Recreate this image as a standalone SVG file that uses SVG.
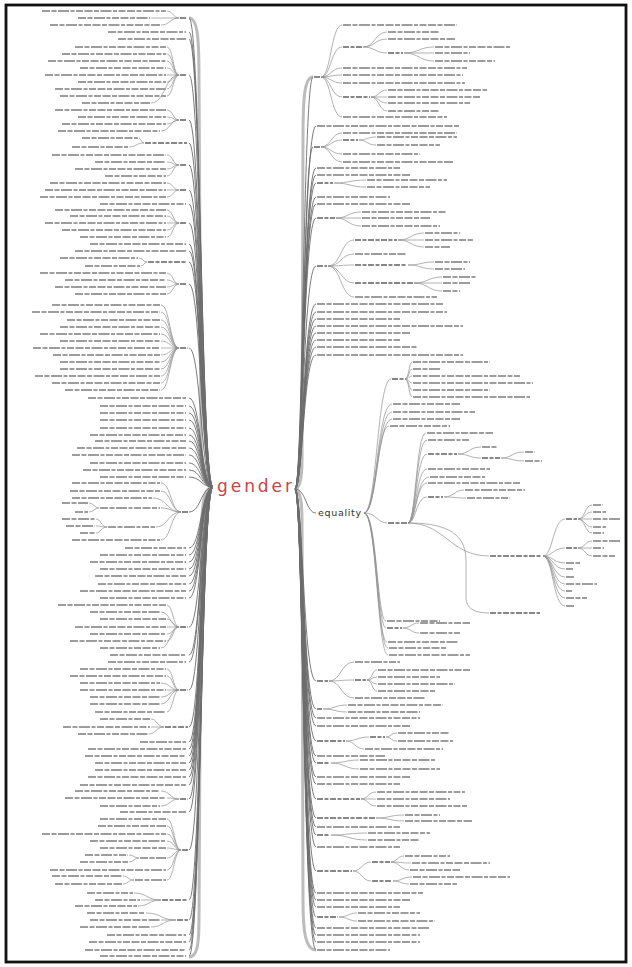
<svg xmlns="http://www.w3.org/2000/svg" width="632" height="967" viewBox="0 0 632 967">
<style>
.tx{fill:none;stroke:#9d9d9d;stroke-width:1.9;stroke-dasharray:8 1.5 5 1.5 11 1.5 4 1.5 7 1.5}
.nd{fill:none;stroke:#888;stroke-width:2;stroke-dasharray:6 1.5 4 1.5}
.c{fill:none;stroke:#8f8f8f;stroke-width:.7}
.rt{fill:none;stroke:#6c6c6c;stroke-width:.9}
.band{fill:none;stroke:#7a7a7a;stroke-width:3;opacity:.5}
</style>
<rect x="0" y="0" width="632" height="967" fill="#fff"/>
<rect x="6" y="5" width="620" height="957" fill="#fff" stroke="#111" stroke-width="2.8"/>

<g id="connectors">
<path class="band" d="M189 18C198 18 199 40 199 80L201 440C202 478 205 487 213 487C205 487 202 496 201 540L199 920C199 945 197 957 189 957"/>
<path class="band" d="M313 77C304 77 303 100 303 140L302 460C302 480 299 489 295 489C299 489 302 500 302 520L303 900C303 930 305 950 316 950"/>
<path class="rt" d="M213 487C201 487 201 18 189 18M213 487C201 487 201 32 189 32M213 487C201 487 201 39 189 39M213 487C201 487 201 75 189 75M213 487C201 487 201 120 189 120M213 487C201 487 201 143 189 143M213 487C201 487 201 165 189 165M213 487C201 487 201 190 189 190M213 487C201 487 201 204 189 204M213 487C201 487 201 223 189 223M213 487C201 487 201 244 189 244M213 487C201 487 201 251 189 251M213 487C201 487 201 262 189 262M213 487C201 487 201 284 189 284M213 487C201 487 201 348 189 348M213 487C201 487 201 398 189 398M213 487C201 487 201 406 189 406M213 487C201 487 201 413 189 413M213 487C201 487 201 420 189 420M213 487C201 487 201 428 189 428M213 487C201 487 201 435 189 435M213 487C201 487 201 441 189 441M213 487C201 487 201 448 189 448M213 487C201 487 201 455 189 455M213 487C201 487 201 463 189 463M213 487C201 487 201 470 189 470M213 487C201 487 201 477 189 477M213 487C201 487 201 512 189 512M213 487C201 487 201 548 189 548M213 487C201 487 201 555 189 555M213 487C201 487 201 562 189 562M213 487C201 487 201 569 189 569M213 487C201 487 201 576 189 576M213 487C201 487 201 584 189 584M213 487C201 487 201 591 189 591M213 487C201 487 201 598 189 598M213 487C201 487 201 627 189 627M213 487C201 487 201 655 189 655M213 487C201 487 201 662 189 662M213 487C201 487 201 690 189 690M213 487C201 487 201 727 189 727M213 487C201 487 201 742 189 742M213 487C201 487 201 749 189 749M213 487C201 487 201 756 189 756M213 487C201 487 201 763 189 763M213 487C201 487 201 770 189 770M213 487C201 487 201 777 189 777M213 487C201 487 201 785 189 785M213 487C201 487 201 799 189 799M213 487C201 487 201 812 189 812M213 487C201 487 201 850 189 850M213 487C201 487 201 900 189 900M213 487C201 487 201 920 189 920M213 487C201 487 201 935 189 935M213 487C201 487 201 942 189 942M213 487C201 487 201 950 189 950M213 487C201 487 201 956 189 956"/>
<path class="rt" d="M295 489C303 489 303 77 313 77M295 489C303 489 303 126 316 126M295 489C303 489 303 147 313 147M295 489C303 489 303 168 316 168M295 489C303 489 303 175 316 175M295 489C303 489 303 183 316 183M295 489C303 489 303 197 316 197M295 489C303 489 303 204 316 204M295 489C303 489 303 218 316 218M295 489C303 489 303 266 316 266M295 489C303 489 303 304 316 304M295 489C303 489 303 312 316 312M295 489C303 489 303 319 316 319M295 489C303 489 303 326 316 326M295 489C303 489 303 333 316 333M295 489C303 489 303 340 316 340M295 489C303 489 303 347 316 347M295 489C303 489 303 355 316 355M295 489C303 489 303 681 316 681M295 489C303 489 303 709 316 709M295 489C303 489 303 718 316 718M295 489C303 489 303 726 316 726M295 489C303 489 303 741 316 741M295 489C303 489 303 756 316 756M295 489C303 489 303 763 316 763M295 489C303 489 303 777 316 777M295 489C303 489 303 784 316 784M295 489C303 489 303 799 316 799M295 489C303 489 303 818 316 818M295 489C303 489 303 827 316 827M295 489C303 489 303 835 316 835M295 489C303 489 303 847 316 847M295 489C303 489 303 871 316 871M295 489C303 489 303 893 316 893M295 489C303 489 303 900 316 900M295 489C303 489 303 907 316 907M295 489C303 489 303 917 316 917M295 489C303 489 303 928 316 928M295 489C303 489 303 935 316 935M295 489C303 489 303 942 316 942M295 489C303 489 303 950 316 950M295 489C306 489 306 513 316 513"/>
<path class="c" d="M179 18C173 18 173 11 167 11M179 18H151M179 18C170 18 170 25 161 25
M179 75C173 75 173 47 167 47M179 75C173 75 173 54 167 54M179 75C173 75 173 61 167 61M179 75C173 75 173 68 167 68M179 75H167M179 75C173 75 173 82 167 82M179 75C173 75 173 89 167 89M179 75C173 75 173 96 167 96M179 75C165 75 165 103 151 103
M179 120C173 120 173 110 167 110M179 120C173 120 173 117 167 117M179 120C173 120 173 124 167 124M179 120C170 120 170 131 161 131
M144 143C141 143 141 138 139 138M144 143C136 143 136 147 129 147
M179 165C173 165 173 155 167 155M179 165C173 165 173 162 167 162M179 165C173 165 173 169 167 169M179 165C173 165 173 176 167 176
M179 190C173 190 173 183 167 183M179 190H167M179 190C173 190 173 197 167 197
M179 223C173 223 173 210 167 210M179 223C173 223 173 216 167 216M179 223H167M179 223C173 223 173 230 167 230M179 223C173 223 173 237 167 237
M147 262C143 262 143 258 139 258M147 262C144 262 144 266 141 266
M179 284C173 284 173 273 167 273M179 284C173 284 173 280 167 280M179 284C173 284 173 287 167 287M179 284C173 284 173 294 167 294
M179 348C170 348 170 305 161 305M179 348C170 348 170 312 161 312M179 348C170 348 170 320 161 320M179 348C170 348 170 327 161 327M179 348C170 348 170 334 161 334M179 348C170 348 170 341 161 341M179 348H161M179 348C170 348 170 355 161 355M179 348C170 348 170 362 161 362M179 348C170 348 170 369 161 369M179 348C170 348 170 376 161 376M179 348C170 348 170 383 161 383M179 348C170 348 170 390 161 390
M181 512C171 512 171 483 161 483M181 512C171 512 171 491 161 491M181 512C167 512 167 498 153 498M181 512C171 512 171 508 161 508M181 512C168 512 168 527 156 527M181 512C171 512 171 540 161 540
M99 508C94 508 94 503 89 503M99 508C94 508 94 512 89 512M107 527C101 527 101 519 96 519M107 527C101 527 101 526 96 526M107 527C101 527 101 533 96 533
M179 627C173 627 173 605 167 605M179 627C170 627 170 612 161 612M179 627C173 627 173 619 167 619M179 627H167M179 627C173 627 173 634 167 634M179 627C173 627 173 641 167 641M179 627C170 627 170 648 161 648
M179 690C173 690 173 669 167 669M179 690C173 690 173 676 167 676M179 690C170 690 170 683 161 683M179 690H167M179 690C170 690 170 697 161 697M179 690C170 690 170 704 161 704M179 690C173 690 173 712 167 712
M164 727C157 727 157 719 151 719M164 727H151M164 727C156 727 156 734 149 734
M179 799C170 799 170 791 161 791M179 799C173 799 173 798 167 798M179 799C170 799 170 806 161 806
M181 850C174 850 174 819 167 819M181 850C174 850 174 826 167 826M181 850C174 850 174 834 167 834M181 850C174 850 174 841 167 841M181 850C174 850 174 848 167 848M181 850C174 850 174 858 167 858M181 850C174 850 174 870 167 870M181 850C174 850 174 880 167 880
M139 858C134 858 134 855 129 855M139 858C134 858 134 862 129 862M134 880C128 880 128 876 123 876M134 880C128 880 128 884 123 884
M161 900C147 900 147 893 134 893M161 900H141M161 900C149 900 149 906 138 906
M176 920C161 920 161 913 146 913M176 920H161M176 920C163 920 163 927 151 927"/>
<path class="c" d="M321 77C331 77 331 25 342 25M321 77C331 77 331 47 342 47M321 77C331 77 331 68 342 68M321 77C331 77 331 75 342 75M321 77C331 77 331 83 342 83M321 77C331 77 331 97 342 97M321 77C331 77 331 117 342 117
M363 47C375 47 375 32 387 32M363 47C375 47 375 39 387 39M363 47C375 47 375 53 387 53M404 53C419 53 419 47 434 47M404 53H434M404 53C419 53 419 61 434 61
M371 97C379 97 379 90 387 90M371 97H387M371 97C379 97 379 103 387 103M371 97C379 97 379 111 387 111
M321 147C331 147 331 133 342 133M321 147C331 147 331 140 342 140M321 147C331 147 331 154 342 154M321 147C331 147 331 162 342 162M359 140C367 140 367 137 376 137M359 140C367 140 367 145 376 145
M334 183C350 183 350 180 366 180M334 183C350 183 350 187 366 187
M336 218C348 218 348 212 361 212M336 218H361M336 218C348 218 348 226 361 226
M328 266C341 266 341 240 354 240M328 266C341 266 341 254 354 254M328 266C341 266 341 265 354 265M328 266C341 266 341 283 354 283M328 266C341 266 341 297 354 297
M398 240C411 240 411 233 424 233M398 240H424M398 240C411 240 411 247 424 247M408 265C421 265 421 262 434 262M408 265C421 265 421 269 434 269M414 283C428 283 428 277 442 277M414 283H442M414 283C428 283 428 291 442 291
M364 513C377 513 377 379 391 379M364 513C377 513 377 404 392 404M364 513C377 513 377 412 392 412M364 513C377 513 377 419 392 419M364 513C377 513 377 426 389 426M364 513C377 513 377 523 387 523M364 513C377 513 377 621 386 621M364 513C377 513 377 628 386 628M364 513C377 513 377 642 387 642M364 513C377 513 377 648 388 648M364 513C377 513 377 655 388 655
M405 379C409 379 409 362 412 362M405 379C409 379 409 369 412 369M405 379C409 379 409 376 412 376M405 379C409 379 409 383 412 383M405 379C409 379 409 390 412 390M405 379C409 379 409 397 412 397
M403 628C411 628 411 623 419 623M403 628C411 628 411 633 419 633
M408 523C416 523 416 433 426 433M408 523C416 523 416 440 427 440M408 523C416 523 416 454 427 454M408 523C416 523 416 469 427 469M408 523C416 523 416 477 429 477M408 523C416 523 416 483 427 483M408 523C416 523 416 497 427 497
M458 454C469 454 469 447 481 447M458 454C469 454 469 458 481 458M501 458C512 458 512 452 524 452M501 458C512 458 512 461 524 461M444 497C454 497 454 490 464 490M444 497C455 497 455 498 466 498
M408 523C445 523 450 556 489 556M408 523C440 523 466 530 466 560L466 598C466 608 474 613 489 613
M543 556C553 556 553 519 565 519M543 556C553 556 553 548 565 548M543 556C553 556 553 563 565 563M543 556C553 556 553 569 565 569M543 556C553 556 553 577 565 577M543 556C553 556 553 584 565 584M543 556C553 556 553 591 565 591M543 556C553 556 553 598 565 598M543 556C553 556 553 606 565 606
M578 519C585 519 585 505 592 505M578 519C585 519 585 512 592 512M578 519H592M578 519C585 519 585 527 592 527M578 519C585 519 585 533 592 533M578 548C585 548 585 541 592 541M578 548H592M578 548C585 548 585 556 592 556
M329 681C341 681 341 662 354 662M329 681C341 681 341 680 354 680M329 681C341 681 341 698 354 698M367 680C372 680 372 670 377 670M367 680C372 680 372 677 377 677M367 680C372 680 372 684 377 684M367 680C372 680 372 691 377 691
M323 709C335 709 335 705 347 705M323 709C335 709 335 712 347 712
M346 741C357 741 357 737 369 737M346 741C355 741 355 749 364 749M386 737C391 737 391 733 397 733M386 737C391 737 391 741 397 741
M331 763C345 763 345 760 359 760M331 763C345 763 345 769 359 769
M361 799C368 799 368 792 376 792M361 799H376M361 799C368 799 368 806 376 806
M376 818C390 818 390 815 404 815M376 818C390 818 390 821 404 821
M331 835C349 835 349 833 367 833M331 835C349 835 349 840 367 840
M353 871C362 871 362 862 371 862M353 871C362 871 362 881 371 881M391 862C397 862 397 856 404 856M391 862C400 862 400 863 411 863M391 862C400 862 400 870 409 870M393 881C402 881 402 877 412 877M393 881C401 881 401 884 409 884
M339 917C348 917 348 913 357 913M339 917C348 917 348 921 357 921"/>
</g>

<g id="gender"><text x="217" y="492" font-family="'DejaVu Sans', 'Liberation Sans', sans-serif" font-size="17" fill="#c44545" textLength="75" lengthAdjust="spacing">gender</text></g>
<g id="equality"><text x="318" y="516" font-family="'DejaVu Sans', 'Liberation Sans', sans-serif" font-size="9.5" fill="#333" textLength="43" lengthAdjust="spacing">equality</text></g>

<g id="left-branches">
<g id="l01"><path class="nd" d="M180 18H187"/><path class="tx" d="M42 11H166M78 18H150M50 25H160"/></g>
<g id="l02"><path class="tx" d="M108 32H186M118 39H186"/></g>
<g id="l04"><path class="nd" d="M180 75H187"/><path class="tx" d="M75 47H166M62 54H166M48 61H166M80 68H166M45 75H166M78 82H166M55 89H166M60 96H166M82 103H150"/></g>
<g id="l05"><path class="nd" d="M180 120H187"/><path class="tx" d="M55 110H166M78 117H166M62 124H166M58 131H160"/></g>
<g id="l06"><path class="nd" d="M145 143H187"/><path class="tx" d="M82 138H138M72 147H128"/></g>
<g id="l07"><path class="nd" d="M180 165H187"/><path class="tx" d="M52 155H166M95 162H166M75 169H166M105 176H166"/></g>
<g id="l08"><path class="nd" d="M180 190H187"/><path class="tx" d="M50 183H166M45 190H166M40 197H166"/></g>
<g id="l09"><path class="tx" d="M100 204H186"/></g>
<g id="l10"><path class="nd" d="M180 223H187"/><path class="tx" d="M55 210H166M70 216H166M45 223H166M62 230H166M80 237H166"/></g>
<g id="l11"><path class="tx" d="M90 244H186M75 251H186"/></g>
<g id="l13"><path class="nd" d="M148 262H187"/><path class="tx" d="M60 258H138M85 266H140"/></g>
<g id="l14"><path class="nd" d="M180 284H187"/><path class="tx" d="M40 273H166M65 280H166M55 287H166M75 294H166"/></g>
<g id="l15"><path class="nd" d="M180 348H188"/><path class="tx" d="M52 305H160M32 312H160M67 320H160M60 327H160M40 334H160M60 341H160M33 348H160M53 355H160M60 362H160M60 369H160M35 376H160M52 383H160M65 390H160"/></g>
<g id="l16"><path class="tx" d="M88 398H186M100 406H186M100 413H186M100 420H186M100 428H186M90 435H186M95 441H186M77 448H186M72 455H186M90 463H186M83 470H186M100 477H186"/></g>
<g id="l28"><path class="nd" d="M182 512H188"/><path class="tx" d="M72 483H160M70 491H160M72 498H152M100 508H160M62 503H88M75 512H88M108 527H155M62 519H95M66 526H95M80 533H95M72 540H160"/></g>
<g id="l29"><path class="tx" d="M125 548H186M100 555H186M90 562H186M100 569H186M95 576H186M98 584H186M80 591H186M100 598H186"/></g>
<g id="l37"><path class="nd" d="M180 627H188"/><path class="tx" d="M58 605H166M90 612H160M100 619H166M75 627H166M90 634H166M70 641H166M100 648H160"/></g>
<g id="l38"><path class="tx" d="M110 655H186M108 662H186"/></g>
<g id="l40"><path class="nd" d="M180 690H188"/><path class="tx" d="M80 669H166M70 676H166M80 683H160M80 690H166M90 697H160M90 704H160M95 712H166"/></g>
<g id="l41"><path class="nd" d="M165 727H188"/><path class="tx" d="M100 719H150M63 727H150M78 734H148"/></g>
<g id="l42"><path class="tx" d="M140 742H186M88 749H186M85 756H186M95 763H186M95 770H186M88 777H186M80 785H186"/></g>
<g id="l49"><path class="nd" d="M180 799H188"/><path class="tx" d="M75 791H160M65 798H166M100 806H160"/></g>
<g id="l50"><path class="tx" d="M120 812H186"/></g>
<g id="l51"><path class="nd" d="M182 850H188"/><path class="tx" d="M100 819H166M98 826H166M42 834H166M90 841H166M100 848H166M140 858H166M85 855H128M80 862H128M50 870H166M135 880H166M52 876H122M55 884H122"/></g>
<g id="l52"><path class="nd" d="M162 900H188"/><path class="tx" d="M87 893H133M95 900H140M75 906H137"/></g>
<g id="l53"><path class="nd" d="M177 920H188"/><path class="tx" d="M87 913H145M90 920H160M80 927H150"/></g>
<g id="l54"><path class="tx" d="M107 935H186M89 942H186M85 950H186M100 956H186"/></g>
</g>

<g id="right-branches">
<g id="r01"><path class="nd" d="M314 77H320M343 47H362M388 53H403M343 97H370"/><path class="tx" d="M343 25H457M388 32H440M388 39H455M435 47H510M435 53H470M435 61H495M343 68H467M343 75H463M343 83H465M388 90H487M388 97H480M388 103H470M388 111H440M343 117H447"/></g>
<g id="r02"><path class="tx" d="M317 126H460"/></g>
<g id="r03"><path class="nd" d="M314 147H320M343 140H358"/><path class="tx" d="M343 133H457M377 137H457M377 145H440M343 154H420M343 162H453"/></g>
<g id="r04"><path class="tx" d="M317 168H400M317 175H410"/></g>
<g id="r06"><path class="nd" d="M317 183H333"/><path class="tx" d="M367 180H447M367 187H430"/></g>
<g id="r07"><path class="tx" d="M317 197H390M317 204H410"/></g>
<g id="r09"><path class="nd" d="M317 218H335"/><path class="tx" d="M362 212H447M362 218H430M362 226H440"/></g>
<g id="r10"><path class="nd" d="M317 266H327M355 240H397M355 265H407M355 283H413"/><path class="tx" d="M425 233H460M425 240H473M425 247H450M355 254H407M435 262H470M435 269H465M443 277H477M443 283H470M443 291H460M355 297H437"/></g>
<g id="r11"><path class="tx" d="M317 304H443M317 312H447M317 319H400M317 326H463M317 333H410M317 340H400M317 347H417M317 355H463"/></g>
<g id="eq-children"><path class="nd" d="M392 379H404M387 628H402"/><path class="tx" d="M413 362H490M413 369H440M413 376H520M413 383H533M413 390H490M413 397H530M393 404H460M393 412H475M393 419H460M390 426H450M387 621H440M420 623H470M420 633H460M388 642H458M389 648H447M389 655H470"/></g>
<g id="eq-node"><path class="nd" d="M388 523H407M428 454H457M482 458H500M428 497H443"/><path class="tx" d="M427 433H493M428 440H470M482 447H498M525 452H535M525 461H542M428 469H490M430 477H485M428 483H520M465 490H525M467 498H510"/></g>
<g id="eq-long"><path class="nd" d="M490 556H542M566 519H577M566 548H577"/><path class="tx" d="M593 505H603M593 512H606M593 519H620M593 527H606M593 533H604M593 541H620M593 548H604M593 556H615M566 563H580M566 569H573M566 577H575M566 584H597M566 591H572M566 598H587M566 606H575"/></g>
<g id="eq-short"><path class="nd" d="M490 613H540"/></g>
<g id="r20"><path class="nd" d="M317 681H328M355 680H366"/><path class="tx" d="M355 662H400M378 670H470M378 677H440M378 684H455M378 691H435M355 698H425"/></g>
<g id="r21"><path class="nd" d="M317 709H322"/><path class="tx" d="M348 705H443M348 712H420"/></g>
<g id="r22"><path class="tx" d="M317 718H420M317 726H410"/></g>
<g id="r24"><path class="nd" d="M317 741H345M370 737H385"/><path class="tx" d="M398 733H450M398 741H453M365 749H443"/></g>
<g id="r25"><path class="tx" d="M317 756H385"/></g>
<g id="r26"><path class="nd" d="M317 763H330"/><path class="tx" d="M360 760H435M360 769H440"/></g>
<g id="r27"><path class="tx" d="M317 777H410M317 784H400"/></g>
<g id="r29"><path class="nd" d="M317 799H360"/><path class="tx" d="M377 792H465M377 799H450M377 806H467"/></g>
<g id="r30"><path class="nd" d="M317 818H375"/><path class="tx" d="M405 815H440M405 821H472"/></g>
<g id="r31"><path class="tx" d="M317 827H400"/></g>
<g id="r32"><path class="nd" d="M317 835H330"/><path class="tx" d="M368 833H430M368 840H420"/></g>
<g id="r33"><path class="tx" d="M317 847H400"/></g>
<g id="r34"><path class="nd" d="M317 871H352M372 862H390M372 881H392"/><path class="tx" d="M405 856H450M412 863H490M410 870H460M413 877H510M410 884H457"/></g>
<g id="r35"><path class="tx" d="M317 893H423M317 900H410M317 907H400"/></g>
<g id="r38"><path class="nd" d="M317 917H338"/><path class="tx" d="M358 913H420M358 921H435"/></g>
<g id="r39"><path class="tx" d="M317 928H430M317 935H420M317 942H420M317 950H390"/></g>
</g>
</svg>
